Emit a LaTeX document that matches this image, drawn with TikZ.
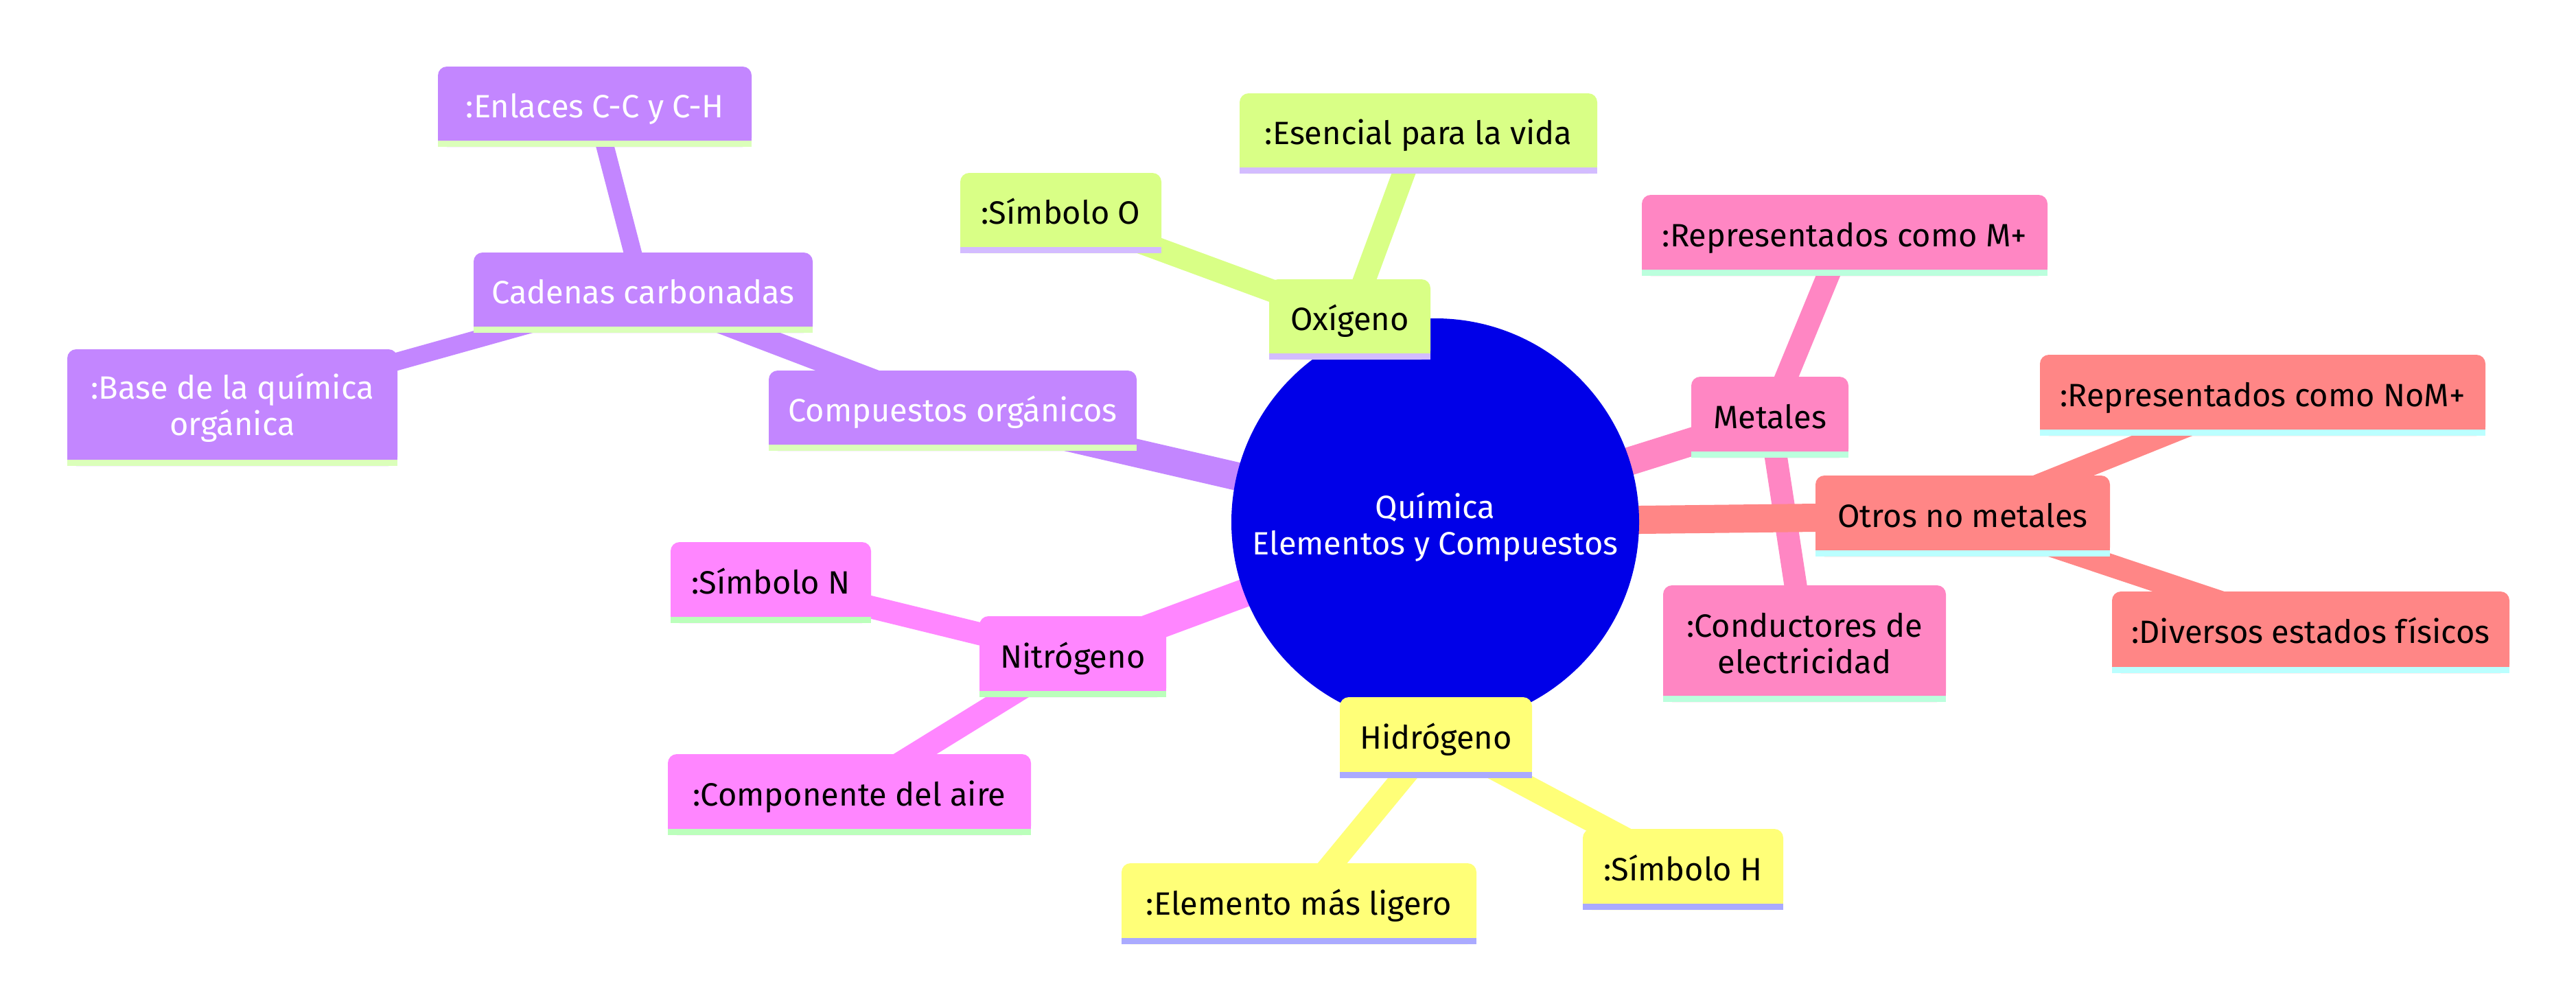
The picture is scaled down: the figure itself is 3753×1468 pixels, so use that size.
\documentclass[tikz,border=0pt]{standalone}
\usepackage{fontspec}
\setmainfont{Fira Sans}
\usetikzlibrary{calc}
\pgfdeclarelayer{bg}
\pgfdeclarelayer{edges}
\pgfdeclarelayer{boxes}
\pgfsetlayers{bg,edges,boxes,main}
\definecolor{cRoot}{HTML}{0000E8}
\definecolor{cY}{HTML}{FFFF78}\definecolor{bY}{HTML}{AAAAFF}
\definecolor{cG}{HTML}{D9FF86}\definecolor{bG}{HTML}{D3BCFF}
\definecolor{cP}{HTML}{C386FF}\definecolor{bP}{HTML}{DBFFBA}
\definecolor{cM}{HTML}{FF86FF}\definecolor{bM}{HTML}{BBFFBB}
\definecolor{cK}{HTML}{FF86C3}\definecolor{bK}{HTML}{BBFFDD}
\definecolor{cS}{HTML}{FF8686}\definecolor{bS}{HTML}{BBFFFF}
\newcommand\mmfill[3]{%
  \fill[#2, rounded corners=13pt] (#1.north west) rectangle (#1.south east);
  \fill[#2] (#1.west) rectangle (#1.south east);
  \fill[#3] (#1.south west) rectangle ($(#1.south east)+(0,-9)$);}
\begin{document}
\begin{tikzpicture}[x=1pt,y=-1pt,
  mm/.style={inner sep=0pt, outer sep=0pt, align=center, font=\fontsize{47}{53}\selectfont},
  one/.style={text height=32pt, text depth=0pt},
  sz/.style 2 args={minimum width=#1pt, minimum height=#2pt},
  ezero/.style={line width=41pt},
  eone/.style={line width=33pt},
  etwo/.style={line width=26pt}]
\useasboundingbox (0,0) rectangle (3753,1468);
\begin{pgfonlayer}{bg}
  \fill[white] (0,0) rectangle (3753,1468);
\end{pgfonlayer}

% root
\node[mm, circle, minimum size=594pt, text=white] (root) at (2091,761) {\rule{0pt}{52pt}Química\\Elementos y Compuestos};

% purple branch
\node[mm, one, sz={536}{117}, text=white] (comp) at (1388,598.5) {Compuestos orgánicos};
\node[mm, one, sz={494}{117}, text=white] (cad) at (937,426.5) {Cadenas carbonadas};
\node[mm, one, sz={457}{117}, text=white] (enl) at (866.5,155.5) {:Enlaces C-C y C-H};
\node[mm, sz={481}{170}, text=white] (base) at (338.5,594) {:Base de la química\\orgánica};

% green branch
\node[mm, one, sz={235}{117}] (oxi) at (1966.5,465.5) {Oxígeno};
\node[mm, one, sz={293}{117}] (simO) at (1545.5,310.5) {:Símbolo O};
\node[mm, one, sz={521}{117}] (esen) at (2066.5,194.5) {:Esencial para la vida};

% pink branch
\node[mm, one, sz={229}{118}] (met) at (2578.5,608) {Metales};
\node[mm, one, sz={591}{118}] (repM) at (2687.5,343) {:Representados como M+};
\node[mm, sz={412}{170}] (cond) at (2629,938) {:Conductores de\\electricidad};

% salmon branch
\node[mm, one, sz={429}{118}] (otros) at (2859.5,752) {Otros no metales};
\node[mm, one, sz={649}{118}] (repN) at (3296.5,576) {:Representados como NoM+};
\node[mm, one, sz={579}{119}] (div) at (3366.5,921.5) {:Diversos estados físicos};

% magenta branch
\node[mm, one, sz={272}{118}] (nit) at (1563,957) {Nitrógeno};
\node[mm, one, sz={292}{118}] (simN) at (1123,849) {:Símbolo N};
\node[mm, one, sz={529}{118}] (compA) at (1237.5,1158) {:Componente del aire};

% yellow branch
\node[mm, one, sz={280}{118}] (hid) at (2092,1075) {Hidrógeno};
\node[mm, one, sz={517}{118}] (elem) at (1892.5,1317) {:Elemento más ligero};
\node[mm, one, sz={292}{118}] (simH) at (2452,1267) {:Símbolo H};

\begin{pgfonlayer}{boxes}
  \fill[cRoot] (root.center) circle[radius=297pt];
  \mmfill{comp}{cP}{bP}\mmfill{cad}{cP}{bP}\mmfill{enl}{cP}{bP}\mmfill{base}{cP}{bP}
  \mmfill{oxi}{cG}{bG}\mmfill{simO}{cG}{bG}\mmfill{esen}{cG}{bG}
  \mmfill{met}{cK}{bK}\mmfill{repM}{cK}{bK}\mmfill{cond}{cK}{bK}
  \mmfill{otros}{cS}{bS}\mmfill{repN}{cS}{bS}\mmfill{div}{cS}{bS}
  \mmfill{nit}{cM}{bM}\mmfill{simN}{cM}{bM}\mmfill{compA}{cM}{bM}
  \mmfill{hid}{cY}{bY}\mmfill{elem}{cY}{bY}\mmfill{simH}{cY}{bY}
\end{pgfonlayer}

\begin{pgfonlayer}{edges}
  \draw[ezero, cY] (root.center) -- (hid.center);
  \draw[eone, cY] (hid.center) -- (elem.center);
  \draw[eone, cY] (hid.center) -- (simH.center);
  \draw[ezero, cG] (root.center) -- (oxi.center);
  \draw[eone, cG] (oxi.center) -- (simO.center);
  \draw[eone, cG] (oxi.center) -- (esen.center);
  \draw[ezero, cP] (root.center) -- (comp.center);
  \draw[eone, cP] (comp.center) -- (cad.center);
  \draw[etwo, cP] (cad.center) -- (enl.center);
  \draw[etwo, cP] (cad.center) -- (base.center);
  \draw[ezero, cM] (root.center) -- (nit.center);
  \draw[eone, cM] (nit.center) -- (simN.center);
  \draw[eone, cM] (nit.center) -- (compA.center);
  \draw[ezero, cK] (root.center) -- (met.center);
  \draw[eone, cK] (met.center) -- (repM.center);
  \draw[eone, cK] (met.center) -- (cond.center);
  \draw[ezero, cS] (root.center) -- (otros.center);
  \draw[eone, cS] (otros.center) -- (repN.center);
  \draw[eone, cS] (otros.center) -- (div.center);
\end{pgfonlayer}
\end{tikzpicture}
\end{document}
